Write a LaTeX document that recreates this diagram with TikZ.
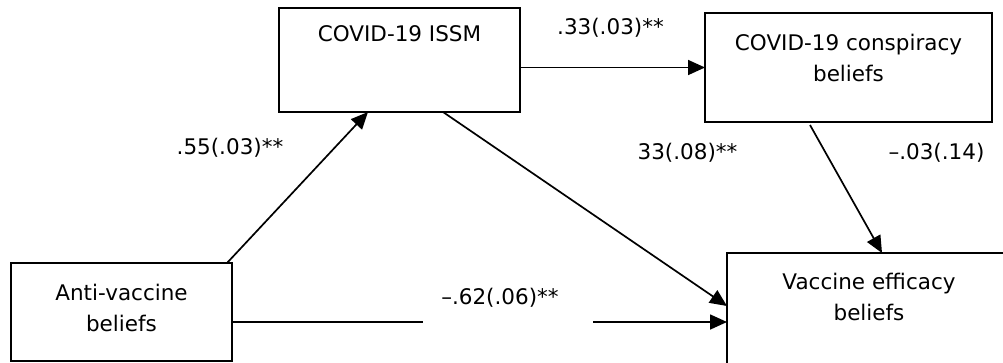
\documentclass[tikz,border=0pt]{standalone}
\usepackage{fontspec}
\setmainfont{DejaVu Sans}
\usetikzlibrary{arrows.meta}
\begin{document}
\begin{tikzpicture}[x=1pt,y=-1pt,
  box/.style={draw,line width=2pt,rectangle,inner sep=0pt,outer sep=0pt,anchor=north west},
  txt/.style={font=\fontsize{21.5}{31}\selectfont,align=center,inner sep=0pt},
  lbl/.style={font=\fontsize{21.5}{31}\selectfont,inner sep=0pt},
  conn/.style={line width=1.7pt,-{Triangle[length=17pt,width=15pt]}},
  plain/.style={line width=1.7pt}]
\useasboundingbox (0,0) rectangle (1003,362);
\clip (0,0) rectangle (1003,362);
\node[box,minimum width=241pt,minimum height=104pt] (issm) at (279,8) {};
\node[box,minimum width=287pt,minimum height=109pt] (consp) at (705,13) {};
\node[box,minimum width=221pt,minimum height=98pt] (anti) at (11,263) {};
\node[box,minimum width=284pt,minimum height=140pt] (vac) at (727,253) {};
\node[txt] (t1) at (399.5,34) {COVID-19 ISSM};
\node[txt] (t2) at (848.5,58) {COVID-19 conspiracy\\beliefs};
\node[txt] (t3) at (121.5,308) {Anti-vaccine\\beliefs};
\node[txt] (t4) at (869,297) {Vaccine efficacy\\beliefs};
\draw[conn] ([xshift=-5pt]anti.north east) -- ([xshift=89pt]issm.south west);
\draw[conn] ([yshift=-7.5pt]issm.east) -- (consp.west);
\draw[conn] ([xshift=164pt]issm.south west) -- ([yshift=-53pt]vac.north west);
\draw[conn] ([xshift=105pt,yshift=-3pt]consp.south west) -- ([xshift=155pt]vac.north west);
\coordinate (g1) at (423,322);
\coordinate (g2) at (593,322);
\draw[plain] (anti.east |- g1) -- (g1);
\draw[conn] (g2) -- (vac.west |- g2);
\node[lbl] (l1) at (230,148) {.55(.03)**};
\node[lbl] (l2) at (610.5,28) {.33(.03)**};
\node[lbl] (l3) at (687.5,153) {33(.08)**};
\node[lbl] (l4) at (936.5,153) {–.03(.14)};
\node[lbl] (l5) at (500,298) {–.62(.06)**};
\end{tikzpicture}
\end{document}
